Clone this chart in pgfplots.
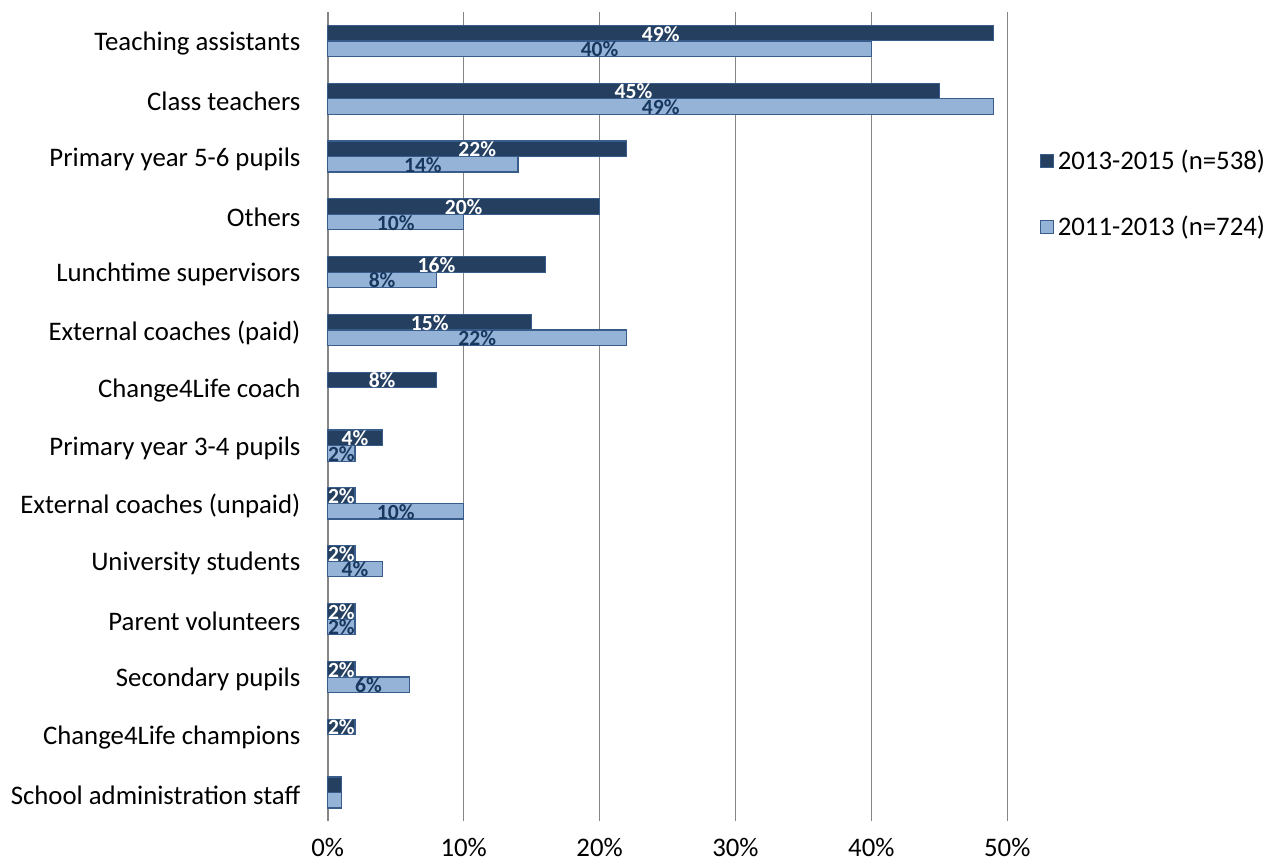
\documentclass[border=0pt]{standalone}
\usepackage{fontspec}
\setmainfont{Carlito}
\usepackage{pgfplots}
\pgfplotsset{compat=1.18}
\usepackage{pgfplotstable}

\definecolor{darkbar}{HTML}{243F60}
\definecolor{lightbar}{HTML}{95B3D7}
\definecolor{barline}{HTML}{385D8A}
\definecolor{labnavy}{HTML}{17375E}
\definecolor{gridgray}{HTML}{868686}

% y: category position (Teaching assistants at top), a: 2013-2015, b: 2011-2013
\pgfplotstableread{
y a b
13 49 40
12 45 49
11 22 14
10 20 10
9 16 8
8 15 22
7 8 nan
6 4 2
5 2 10
4 2 4
3 2 2
2 2 6
1 2 nan
0 1 1
}\shares

\newcommand{\catfont}{\fontsize{13.4}{16}\selectfont}
\newcommand{\labfont}{\bfseries\fontsize{10.8}{12}\selectfont}

\begin{document}
\begin{tikzpicture}
\begin{axis}[
  scale only axis, width=340pt, height=405pt,
  xmin=0, xmax=50, ymin=-0.5, ymax=13.5,
  xtick={0,10,...,50}, ytick={0,...,13},
  yticklabels={School administration staff, Change4Life champions, Secondary pupils, Parent volunteers, University students, External coaches (unpaid), Primary year 3-4 pupils, Change4Life coach, External coaches (paid), Lunchtime supervisors, Others, Primary year 5-6 pupils, Class teachers, Teaching assistants},
  xticklabel={\pgfmathprintnumber{\tick}\%},
  /pgf/number format/assume math mode=true,
  axis line style={draw=none},
  major tick length=0pt,
  xmajorgrids, major grid style={gridgray, line width=0.75pt},
  xticklabel style={font=\catfont, inner sep=0pt, yshift=-8pt},
  yticklabel style={font=\catfont, inner sep=0pt, xshift=-13.5pt, yshift=-1.3pt},
  clip=false,
  legend style={draw=none, fill=none, at={(1.047,0.835)}, anchor=north west,
    font=\catfont, row sep=17.5pt, inner sep=0pt},
  legend cell align=left,
  legend image code/.code={\draw[#1, line width=0.6pt] (0pt,-3.25pt) rectangle (6.5pt,3.25pt);},
]
\addplot[xbar, bar width=7.75pt, bar shift=3.9pt, fill=darkbar, draw=barline, line width=0.6pt]
  table[x=a, y=y]{\shares};
\addplot[xbar, bar width=7.75pt, bar shift=-3.9pt, fill=lightbar, draw=barline, line width=0.6pt]
  table[x=b, y=y]{\shares};
% value labels centred in the bars
\addplot[only marks, mark=none, forget plot, restrict y to domain=0.5:14,
  point meta=explicit, nodes near coords={\pgfmathprintnumber{\pgfplotspointmeta}\%},
  every node near coord/.append style={anchor=center, yshift=3.6pt, text=white, font=\labfont, inner sep=0pt}]
  table[x expr=\thisrow{a}/2, y=y, meta=a]{\shares};
\addplot[only marks, mark=none, forget plot, restrict y to domain=0.5:14,
  point meta=explicit, nodes near coords={\pgfmathprintnumber{\pgfplotspointmeta}\%},
  every node near coord/.append style={anchor=center, yshift=-4.2pt, text=labnavy, font=\labfont, inner sep=0pt}]
  table[x expr=\thisrow{b}/2, y=y, meta=b]{\shares};
\legend{2013-2015 (n=538), 2011-2013 (n=724)}
\end{axis}
\path (current axis.south west) ++(-164pt,-20.5pt) rectangle ++(634.5pt,431.5pt);
\end{tikzpicture}
\end{document}
